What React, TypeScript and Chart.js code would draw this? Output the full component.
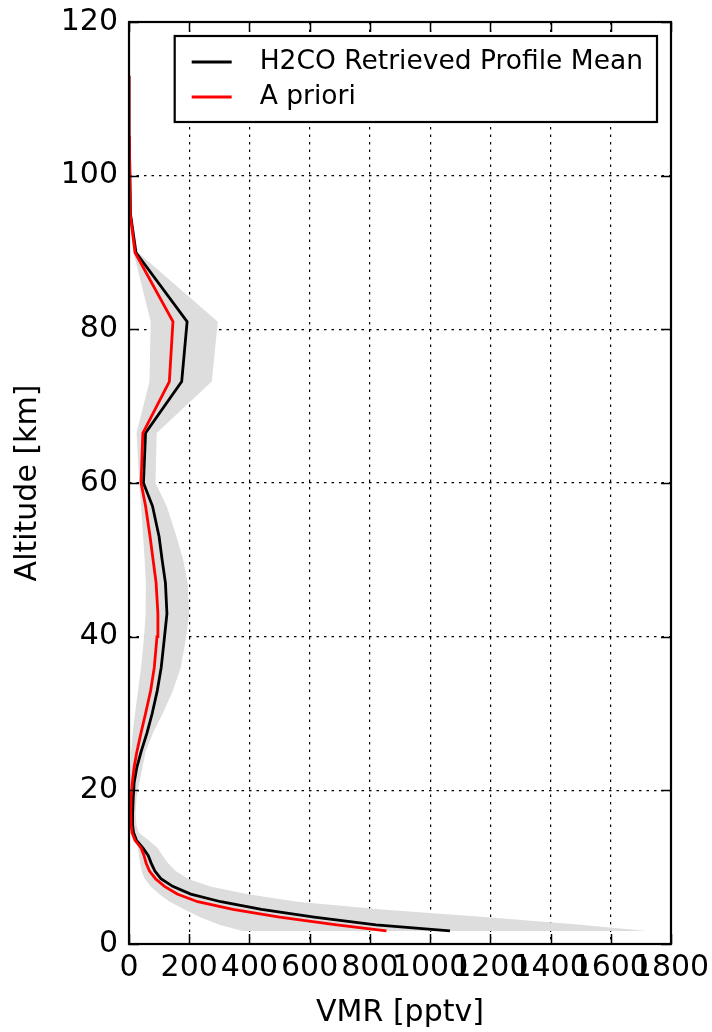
import React, { useEffect, useRef } from "react";
import { Chart, registerables } from "chart.js";

Chart.register(...registerables);

// ---- data ----
const altitudeKm = [
  1.7, 2.5, 3.5, 4.5, 5.5, 6.5, 7.5, 8.5, 9.5, 10.5,
  11.5, 12.5, 13.5, 14.5, 15.5, 17, 19, 21, 23, 25,
  27.5, 30, 33, 36, 40, 43, 47, 50, 53, 57,
  60, 66.5, 73.2, 81, 90, 95, 105, 113,
];
const retrievedMean = [
  1066, 820, 615, 440, 305, 205, 145, 106, 86, 74,
  64, 46, 25, 15, 12, 12, 14, 17, 26, 40,
  60, 77, 94, 107, 118, 126, 121, 110, 100, 78,
  48, 55, 175, 193, 23, 5, 1, 0,
];
const aPriori = [
  855, 690, 500, 345, 228, 160, 118, 88, 68, 57,
  50, 40, 20, 10, 7, 6, 7, 11, 17, 26,
  40, 55, 72, 84, 93, 96, 90, 80, 70, 55,
  40, 46, 134, 146, 20, 4, 1, 0,
];
const spreadLow = [
  377, 300, 235, 185, 135, 100, 72, 52, 42, 37,
  33, 30, 27, 18, 8, 0, 0, 3, 5, 7,
  12, 20, 30, 40, 50, 55, 56, 52, 47, 40,
  34, 25, 68, 72, 15, 3, 0.5, 0,
];
const spreadHigh = [
  1720, 1500, 1180, 840, 560, 390, 270, 195, 155, 130,
  112, 95, 65, 32, 25, 22, 25, 34, 45, 55,
  80, 112, 146, 172, 190, 200, 195, 180, 158, 125,
  88, 92, 275, 295, 30, 7, 1.5, 0,
];
const xTicks = [0, 200, 400, 600, 800, 1000, 1200, 1400, 1600, 1800];
const yTicks = [0, 20, 40, 60, 80, 100, 120];
const legendLabels = ["H2CO Retrieved Profile Mean", "A priori"];
const legendColors = ["#000000", "#ff0000"];
const xTitle = "VMR [pptv]";
const yTitle = "Altitude [km]";

const FAMILY = "'DejaVu Sans', sans-serif";

const toPoints = (vals: number[]) =>
  vals.map((v, i) => ({ x: v, y: altitudeKm[i] }));

const framePlugin = {
  id: "mplFrame",
  afterDraw(chart: any) {
    const { ctx, chartArea, scales } = chart;
    const { left, right, top, bottom } = chartArea;
    const xs = scales.x;
    const ys = scales.y;
    const TL = 10;
    ctx.save();
    ctx.strokeStyle = "#000";
    ctx.setLineDash([]);
    ctx.lineWidth = 1.5;
    ctx.beginPath();
    for (const v of xTicks) {
      const px = Math.round(xs.getPixelForValue(v)) + 0.5;
      ctx.moveTo(px, bottom);
      ctx.lineTo(px, bottom - TL);
      ctx.moveTo(px, top);
      ctx.lineTo(px, top + TL);
    }
    for (const v of yTicks) {
      const py = Math.round(ys.getPixelForValue(v)) + 0.5;
      ctx.moveTo(left, py);
      ctx.lineTo(left + TL, py);
      ctx.moveTo(right, py);
      ctx.lineTo(right - TL, py);
    }
    ctx.stroke();
    ctx.lineWidth = 2.2;
    ctx.strokeRect(left, top, right - left, bottom - top);

    // legend (matplotlib-style framed box, upper right)
    ctx.font = `26.5px ${FAMILY}`;
    const textW = Math.max(...legendLabels.map((t) => ctx.measureText(t).width));
    const boxRight = right - 14;
    const boxTop = top + 14;
    const textX = boxRight - 14 - textW;
    const boxLeft = textX - 85;
    const boxH = 86;
    ctx.fillStyle = "#ffffff";
    ctx.fillRect(boxLeft, boxTop, boxRight - boxLeft, boxH);
    ctx.lineWidth = 2.2;
    ctx.strokeRect(boxLeft, boxTop, boxRight - boxLeft, boxH);
    const rows = [26, 61];
    legendLabels.forEach((label, i) => {
      const cy = boxTop + rows[i];
      ctx.strokeStyle = legendColors[i];
      ctx.lineWidth = 2.8;
      ctx.beginPath();
      ctx.moveTo(boxLeft + 17, cy);
      ctx.lineTo(boxLeft + 57, cy);
      ctx.stroke();
      ctx.fillStyle = "#000";
      ctx.textAlign = "left";
      ctx.textBaseline = "middle";
      ctx.fillText(label, textX, cy);
    });
    ctx.restore();
  },
};

export default function App() {
  const canvasRef = useRef<HTMLCanvasElement | null>(null);

  useEffect(() => {
    const canvas = canvasRef.current;
    if (!canvas) return;
    const tickFont = { family: FAMILY, size: 30 };
    const chart = new Chart(canvas, {
      type: "line",
      data: {
        datasets: [
          {
            label: "spread-high",
            data: toPoints(spreadHigh),
            borderWidth: 0,
            pointRadius: 0,
            backgroundColor: "#dddddd",
            borderColor: "rgba(0,0,0,0)",
            fill: "+1",
            order: 3,
            tension: 0,
          },
          {
            label: "spread-low",
            data: toPoints(spreadLow),
            borderWidth: 0,
            pointRadius: 0,
            borderColor: "rgba(0,0,0,0)",
            fill: false,
            order: 3,
            tension: 0,
          },
          {
            label: legendLabels[0],
            data: toPoints(retrievedMean),
            borderColor: legendColors[0],
            borderWidth: 2.8,
            pointRadius: 0,
            fill: false,
            order: 2,
            tension: 0,
          },
          {
            label: legendLabels[1],
            data: toPoints(aPriori),
            borderColor: legendColors[1],
            borderWidth: 2.8,
            pointRadius: 0,
            fill: false,
            order: 1,
            tension: 0,
          },
        ],
      },
      options: {
        indexAxis: "y",
        animation: false,
        responsive: false,
        maintainAspectRatio: false,
        devicePixelRatio: 1,
        layout: { padding: { left: 0, right: 41, top: 22, bottom: 0 } },
        plugins: {
          legend: { display: false },
          tooltip: { enabled: false },
        },
        scales: {
          x: {
            type: "linear",
            position: "bottom",
            min: 0,
            max: 1800,
            afterBuildTicks: (scale: any) => {
              scale.ticks = xTicks.map((v) => ({ value: v }));
            },
            afterFit: (scale: any) => {
              scale.height = 88;
              scale.paddingLeft = 0;
              scale.paddingRight = 0;
            },
            ticks: {
              autoSkip: false,
              maxRotation: 0,
              minRotation: 0,
              padding: 6,
              color: "#000",
              font: tickFont,
              callback: (v: any) => String(v),
            },
            grid: {
              color: "#000",
              lineWidth: 1.2,
              drawTicks: false,
            },
            border: { display: false, dash: [2.5, 5] },
            title: {
              display: true,
              text: xTitle,
              color: "#000",
              font: tickFont,
              padding: { top: 0, bottom: 1 },
            },
          },
          y: {
            type: "linear",
            position: "left",
            min: 0,
            max: 120,
            afterBuildTicks: (scale: any) => {
              scale.ticks = yTicks.map((v) => ({ value: v }));
            },
            afterFit: (scale: any) => {
              scale.width = 129;
              scale.paddingTop = 0;
              scale.paddingBottom = 0;
            },
            ticks: {
              autoSkip: false,
              padding: 11,
              color: "#000",
              font: tickFont,
              callback: (v: any) => String(v),
            },
            grid: {
              color: "#000",
              lineWidth: 1.2,
              drawTicks: false,
            },
            border: { display: false, dash: [2.5, 5] },
            title: {
              display: true,
              text: yTitle,
              color: "#000",
              font: tickFont,
              padding: { top: 10, bottom: 0 },
            },
          },
        },
      } as any,
      plugins: [framePlugin],
    });
    return () => chart.destroy();
  }, []);

  return (
    <div style={{ position: "absolute", left: 0, top: 0, width: 712, height: 1032, background: "#fff" }}>
      <canvas
        ref={canvasRef}
        width={712}
        height={1032}
        style={{ display: "block", width: 712, height: 1032 }}
      />
    </div>
  );
}
